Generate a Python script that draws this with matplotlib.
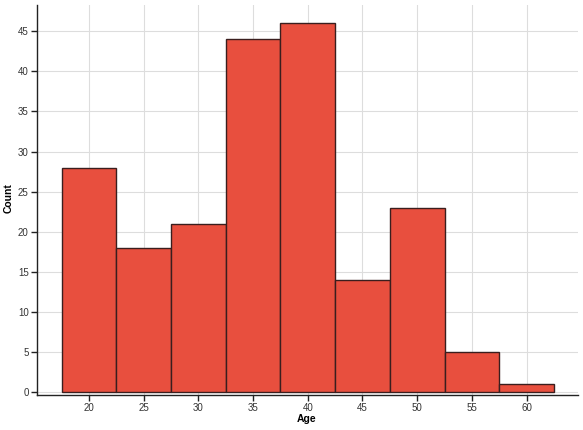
import matplotlib
matplotlib.use("Agg")
import matplotlib.pyplot as plt
import numpy as np

# histogram bins (width 5) and counts
bin_edges = [17.5, 22.5, 27.5, 32.5, 37.5, 42.5, 47.5, 52.5, 57.5, 62.5]
counts = [28, 18, 21, 44, 46, 14, 23, 5, 1]
x_ticks = [20, 25, 30, 35, 40, 45, 50, 55, 60]
y_ticks = [0, 5, 10, 15, 20, 25, 30, 35, 40, 45]

plt.rcParams['font.family'] = ['Liberation Sans', 'DejaVu Sans']

W, H = 583, 430
fig = plt.figure(figsize=(W / 100, H / 100), dpi=100)
# axes box in pixel coords: left 37, right 578, top 5, bottom 394.5
ax = fig.add_axes([37 / W, (H - 394.5) / H, (578 - 37) / W, (394.5 - 5) / H])

lefts = np.array(bin_edges[:-1])
widths = np.diff(bin_edges)
ax.bar(lefts, counts, width=widths, align='edge', color='#e84f3e',
       edgecolor='#3a1e1e', linewidth=1.0, zorder=3)

ax.set_xlim(15.25, 64.7)
ax.set_ylim(-0.35, 48.3)
ax.set_xticks(x_ticks)
ax.set_yticks(y_ticks)
ax.grid(True, color='#dddddd', linewidth=0.8, zorder=0)

for s in ['top', 'right']:
    ax.spines[s].set_visible(False)
for s in ['left', 'bottom']:
    ax.spines[s].set_color('#222222')
    ax.spines[s].set_linewidth(1.0)

ax.tick_params(axis='both', labelsize=7, color='#222222', length=4, width=1,
               labelcolor='#333333', pad=2)

# axis titles placed in figure pixels to keep them inside the canvas
fig.text(307 / W, 1 - 419 / H, 'Age', fontsize=7.5, fontweight='bold',
         ha='center', va='center')
fig.text(9 / W, 1 - 198 / H, 'Count', fontsize=7.5, fontweight='bold',
         ha='center', va='center', rotation=90)

fig.savefig('out.png', dpi=100)
